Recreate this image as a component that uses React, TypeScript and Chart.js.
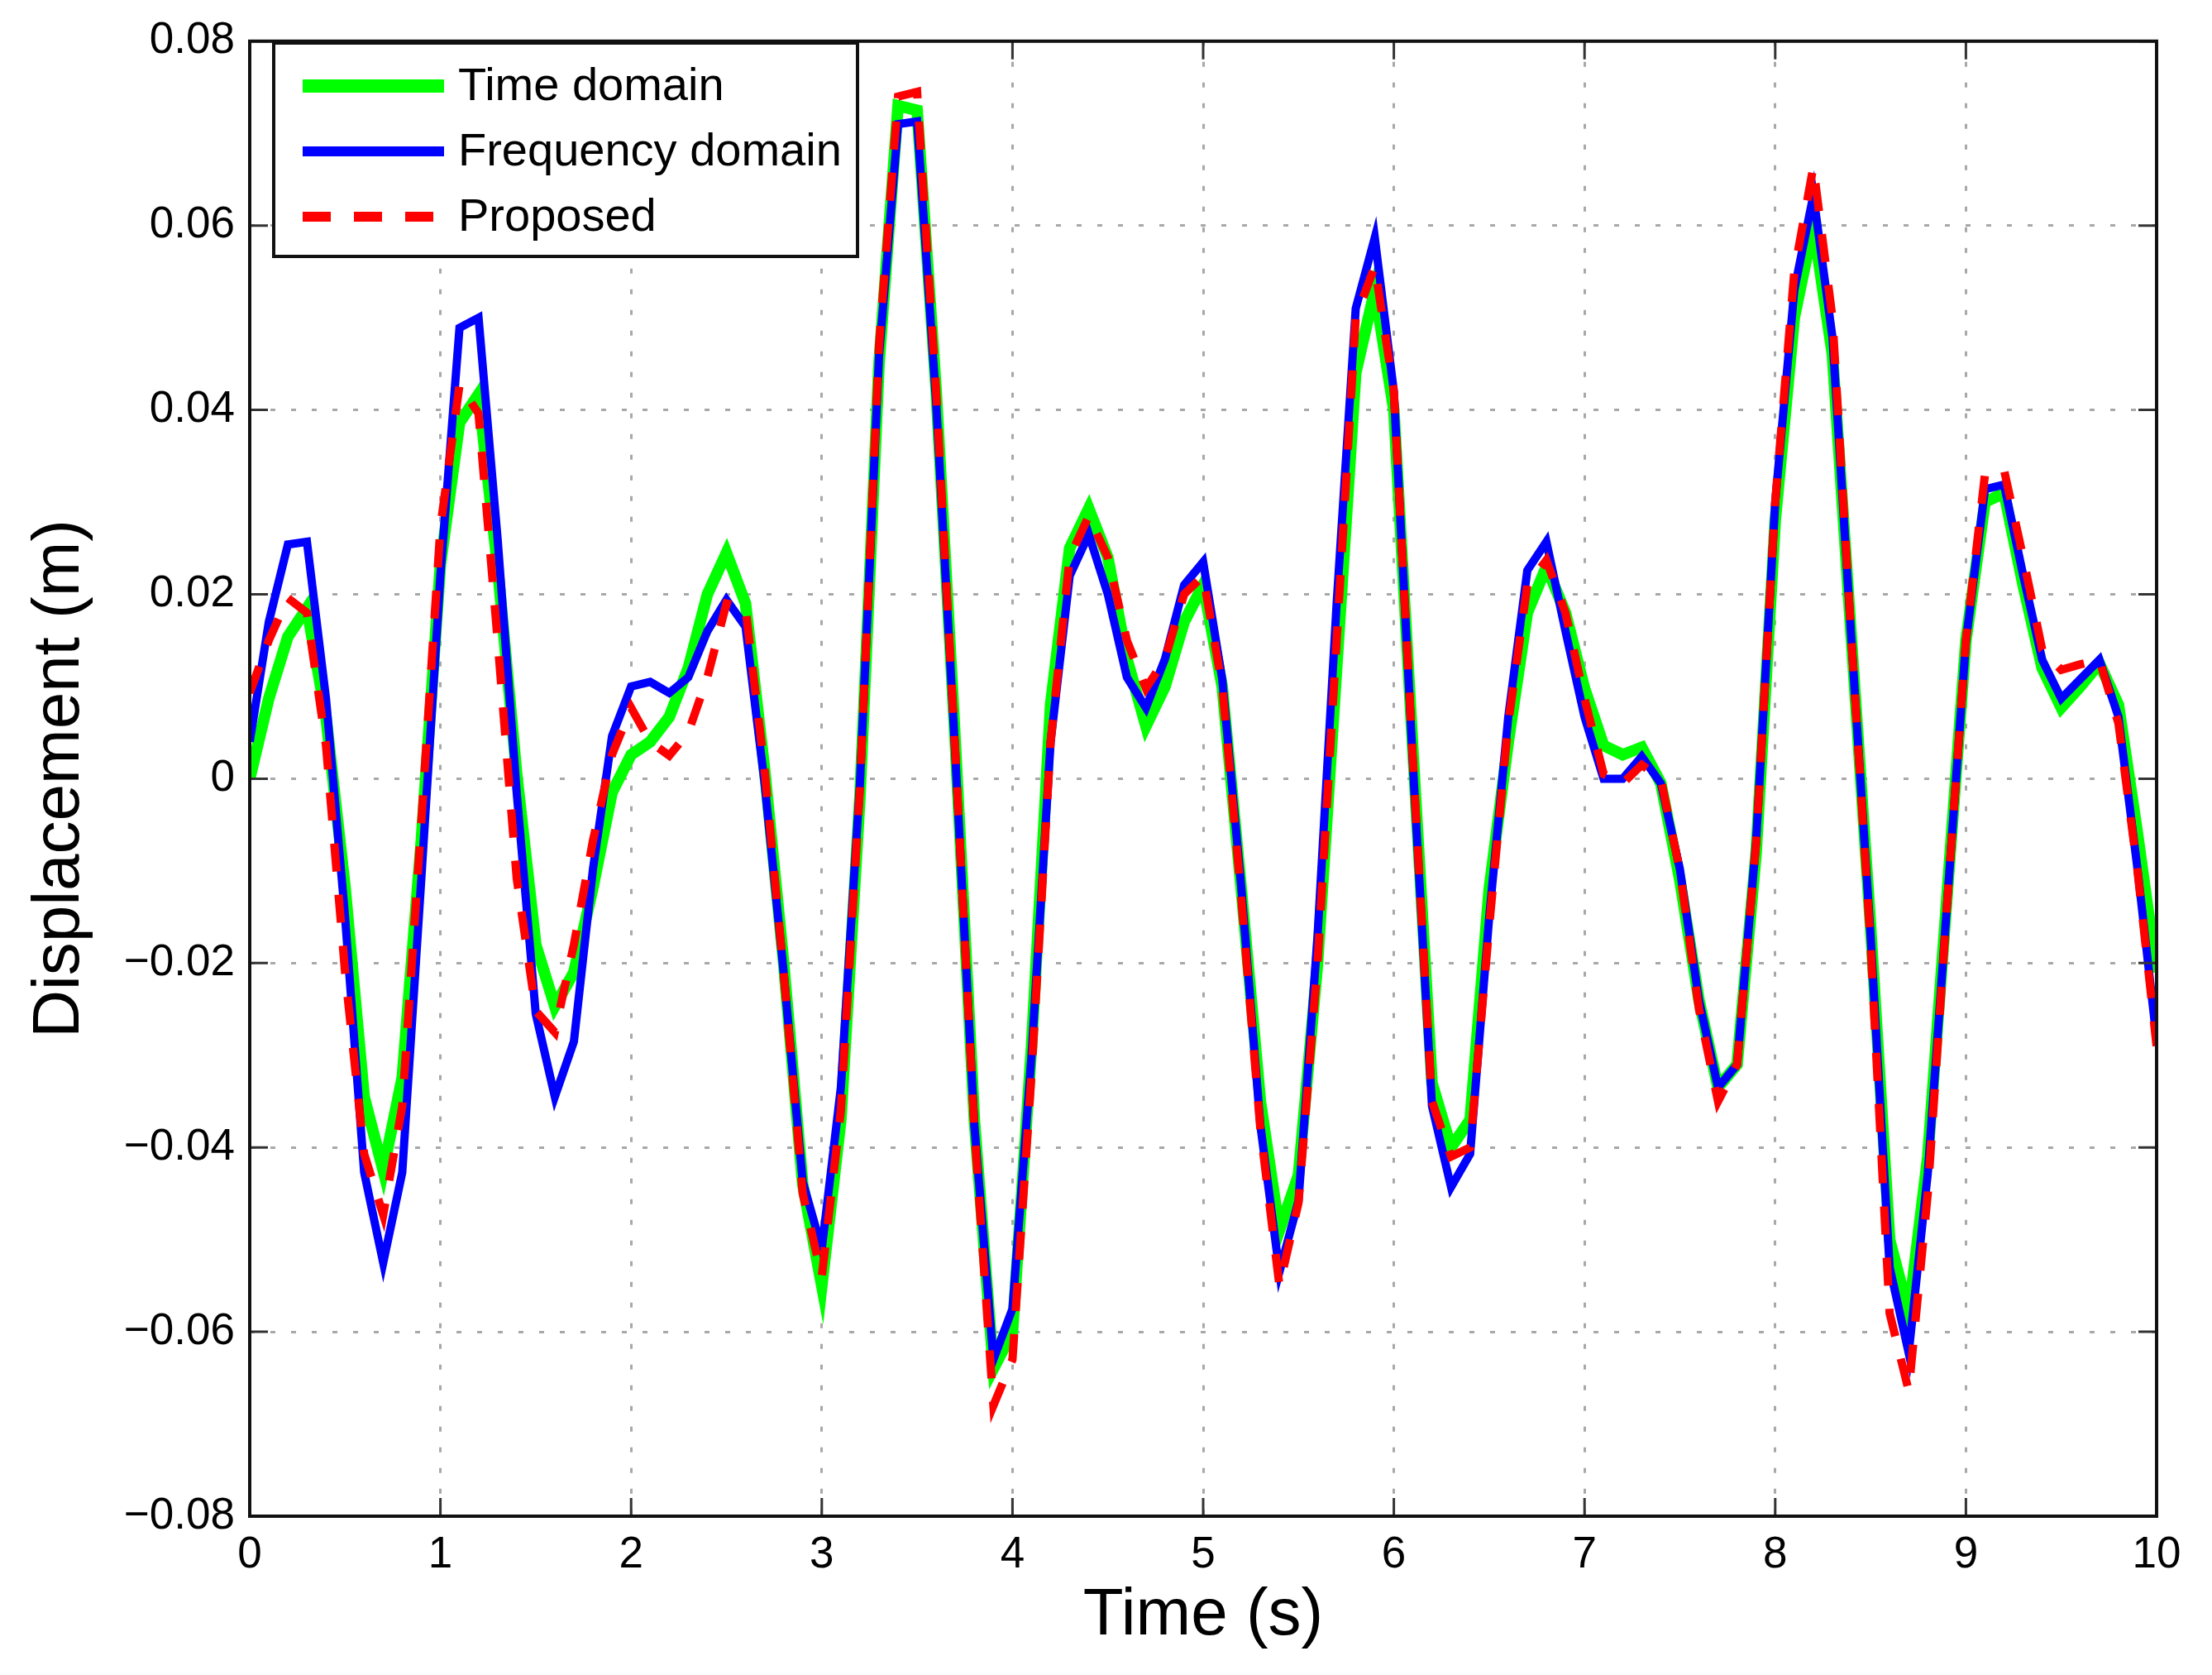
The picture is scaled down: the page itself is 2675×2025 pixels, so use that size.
import React, { useEffect, useRef } from 'react';
import { Chart, registerables } from 'chart.js';

Chart.register(...registerables);

// ---- data ----
const times = [
  0, 0.1, 0.2, 0.3, 0.4, 0.5, 0.6, 0.7, 0.8, 0.9,
  1, 1.1, 1.2, 1.3, 1.4, 1.5, 1.6, 1.7, 1.8, 1.9,
  2, 2.1, 2.2, 2.3, 2.4, 2.5, 2.6, 2.7, 2.8, 2.9,
  3, 3.1, 3.2, 3.3, 3.4, 3.5, 3.6, 3.7, 3.8, 3.9,
  4, 4.1, 4.2, 4.3, 4.4, 4.5, 4.6, 4.7, 4.8, 4.9,
  5, 5.1, 5.2, 5.3, 5.4, 5.5, 5.6, 5.7, 5.8, 5.9,
  6, 6.1, 6.2, 6.3, 6.4, 6.5, 6.6, 6.7, 6.8, 6.9,
  7, 7.1, 7.2, 7.3, 7.4, 7.5, 7.6, 7.7, 7.8, 7.9,
  8, 8.1, 8.2, 8.3, 8.4, 8.5, 8.6, 8.7, 8.8, 8.9,
  9, 9.1, 9.2, 9.3, 9.4, 9.5, 9.6, 9.7, 9.8, 9.9,
  10,
];

const timeDomain = [
  0.0, 0.0087, 0.0154, 0.0185, 0.0067, -0.0118, -0.0345, -0.0425, -0.0324, -0.0067,
  0.0232, 0.0386, 0.0417, 0.023, 0.0005, -0.018, -0.0247, -0.021, -0.0118, -0.0015,
  0.0026, 0.004, 0.0067, 0.012, 0.02, 0.0245, 0.019, 0.001, -0.02, -0.044,
  -0.055, -0.037, -0.002, 0.045, 0.073, 0.0725, 0.042, 0.004, -0.037, -0.064,
  -0.06, -0.029, 0.008, 0.025, 0.0293, 0.024, 0.013, 0.0057, 0.01, 0.017,
  0.021, 0.01, -0.012, -0.035, -0.049, -0.043, -0.02, 0.012, 0.044, 0.053,
  0.04, 0.003, -0.033, -0.04, -0.037, -0.012, 0.004, 0.018, 0.023, 0.018,
  0.0098, 0.0036, 0.0026, 0.0034, -0.0005, -0.011, -0.024, -0.0335, -0.031, -0.008,
  0.028, 0.05, 0.06, 0.046, 0.015, -0.016, -0.05, -0.058, -0.041, -0.013,
  0.015, 0.03, 0.031, 0.021, 0.012, 0.0077, 0.01, 0.0125, 0.008, -0.006,
  -0.021,
];

const frequencyDomain = [
  0.004, 0.017, 0.0254, 0.0257, 0.0087, -0.015, -0.0427, -0.0525, -0.0427, -0.0108,
  0.0221, 0.0489, 0.05, 0.026, -0.0015, -0.0255, -0.0345, -0.0285, -0.0098, 0.0046,
  0.01, 0.0105, 0.0093, 0.011, 0.016, 0.0194, 0.0165, -0.0005, -0.021, -0.0437,
  -0.051, -0.0335, -0.0005, 0.0458, 0.071, 0.0713, 0.0407, 0.0026, -0.0376, -0.063,
  -0.0575, -0.03, 0.004, 0.022, 0.0265, 0.02, 0.011, 0.0077, 0.013, 0.021,
  0.0235, 0.0108, -0.0118, -0.0376, -0.0535, -0.0458, -0.017, 0.019, 0.051, 0.0587,
  0.042, 0.0015, -0.0355, -0.0443, -0.0407, -0.015, 0.0067, 0.0226, 0.0257, 0.016,
  0.0067, 0.0, 0.0, 0.0024, -0.0005, -0.0098, -0.024, -0.0335, -0.031, -0.0067,
  0.03, 0.053, 0.0633, 0.0479, 0.0149, -0.017, -0.053, -0.0623, -0.0428, -0.0139,
  0.0149, 0.0314, 0.0319, 0.0221, 0.0129, 0.0087, 0.0108, 0.0129, 0.0067, -0.0098,
  -0.0283,
];

const proposed = [
  0.0093, 0.015, 0.0196, 0.018, 0.0036, -0.021, -0.0407, -0.0473, -0.0355, -0.0046,
  0.0273, 0.0427, 0.0396, 0.015, -0.0108, -0.0252, -0.0275, -0.018, -0.0067, 0.0026,
  0.0077, 0.004, 0.0025, 0.005, 0.011, 0.019, 0.0185, 0.001, -0.021, -0.045,
  -0.054, -0.036, -0.001, 0.047, 0.074, 0.0745, 0.042, 0.003, -0.038, -0.068,
  -0.063, -0.032, 0.004, 0.024, 0.0285, 0.024, 0.015, 0.0098, 0.013, 0.02,
  0.022, 0.01, -0.013, -0.038, -0.055, -0.046, -0.02, 0.015, 0.05, 0.0556,
  0.042, 0.002, -0.035, -0.041, -0.04, -0.016, 0.006, 0.021, 0.0237, 0.018,
  0.0087, 0.0005, -0.0005, 0.0015, 0.0, -0.01, -0.025, -0.035, -0.031, -0.007,
  0.03, 0.055, 0.0664, 0.05, 0.015, -0.018, -0.058, -0.0664, -0.045, -0.014,
  0.015, 0.033, 0.0335, 0.024, 0.014, 0.0118, 0.0124, 0.0129, 0.006, -0.01,
  -0.029,
];

const xTicks = [0, 1, 2, 3, 4, 5, 6, 7, 8, 9, 10];
const yTicks = [-0.08, -0.06, -0.04, -0.02, 0, 0.02, 0.04, 0.06, 0.08];

const seriesLabels = ['Time domain', 'Frequency domain', 'Proposed'];

const FONT = "'Liberation Sans', Arial, Helvetica, sans-serif";
const W = 2675;
const H = 2025;

const fmtY = (v: number) => {
  if (Math.abs(v) < 1e-9) return '0';
  return (v < 0 ? '\u2212' : '') + Math.abs(v).toFixed(2);
};

const framePlugin = {
  id: 'matlabFrame',
  afterDraw(chart: any) {
    const { ctx, chartArea: a, scales } = chart;
    ctx.save();
    // inner tick marks
    ctx.strokeStyle = '#333';
    ctx.lineWidth = 3;
    const tl = 22;
    ctx.beginPath();
    xTicks.forEach((v) => {
      const px = scales.x.getPixelForValue(v);
      ctx.moveTo(px, a.bottom);
      ctx.lineTo(px, a.bottom - tl);
      ctx.moveTo(px, a.top);
      ctx.lineTo(px, a.top + tl);
    });
    yTicks.forEach((v) => {
      const py = scales.y.getPixelForValue(v);
      ctx.moveTo(a.left, py);
      ctx.lineTo(a.left + tl, py);
      ctx.moveTo(a.right, py);
      ctx.lineTo(a.right - tl, py);
    });
    ctx.stroke();
    // box
    ctx.strokeStyle = '#111';
    ctx.lineWidth = 4;
    ctx.strokeRect(a.left, a.top, a.right - a.left, a.bottom - a.top);

    // legend
    const bx = 331, by = 52, bw = 706, bh = 258;
    ctx.fillStyle = '#ffffff';
    ctx.fillRect(bx, by, bw, bh);
    ctx.strokeStyle = '#111';
    ctx.lineWidth = 4;
    ctx.strokeRect(bx, by, bw, bh);
    const rows = [104, 183, 262];
    const order = [2, 1, 0]; // dataset indices for green, blue, red
    ctx.font = `56px ${FONT}`;
    ctx.textBaseline = 'middle';
    ctx.textAlign = 'left';
    order.forEach((di, i) => {
      const ds = chart.data.datasets[di];
      const y = rows[i];
      ctx.save();
      ctx.strokeStyle = ds.borderColor;
      ctx.lineWidth = ds.borderWidth + 2;
      ctx.setLineDash(ds.borderDash || []);
      ctx.lineCap = 'butt';
      ctx.beginPath();
      ctx.moveTo(366, y);
      ctx.lineTo(537, y);
      ctx.stroke();
      ctx.restore();
      ctx.fillStyle = '#000';
      ctx.fillText(ds.label, 554, y + 2);
    });
    ctx.restore();
  },
};

export default function App() {
  const ref = useRef<HTMLCanvasElement | null>(null);

  useEffect(() => {
    const canvas = ref.current;
    if (!canvas) return;
    const toPts = (arr: number[]) => arr.map((v, i) => ({ x: times[i], y: v }));
    const chart = new Chart(canvas, {
      type: 'line',
      data: {
        datasets: [
          {
            label: seriesLabels[2],
            data: toPts(proposed),
            borderColor: '#ff0000',
            borderWidth: 10,
            borderDash: [34, 28],
            pointRadius: 0,
            tension: 0,
            fill: false,
          },
          {
            label: seriesLabels[1],
            data: toPts(frequencyDomain),
            borderColor: '#0000ff',
            borderWidth: 10,
            pointRadius: 0,
            tension: 0,
            fill: false,
          },
          {
            label: seriesLabels[0],
            data: toPts(timeDomain),
            borderColor: '#00ff00',
            borderWidth: 14,
            pointRadius: 0,
            tension: 0,
            fill: false,
          },
        ],
      },
      options: {
        animation: false,
        responsive: false,
        devicePixelRatio: 1,
        parsing: false as any,
        normalized: true,
        layout: { padding: { left: 0, top: 36, right: 67, bottom: 0 } },
        plugins: {
          legend: { display: false },
          tooltip: { enabled: false },
        },
        scales: {
          x: {
            type: 'linear',
            min: 0,
            max: 10,
            afterBuildTicks: (scale: any) => {
              scale.ticks = xTicks.map((v) => ({ value: v }));
            },
            afterFit: (scale: any) => {
              scale.height = H - 1833;
            },
            ticks: {
              color: '#000',
              padding: 16,
              maxRotation: 0,
              autoSkip: false,
              font: { family: FONT, size: 53 },
              callback: (v: any) => String(v),
            },
            grid: {
              color: '#a8a8a8',
              lineWidth: 3,
              drawTicks: false,
            },
            border: { display: false, dash: [6, 19] },
            title: {
              display: true,
              text: 'Time (s)',
              color: '#000',
              font: { family: FONT, size: 80 },
              padding: { top: 0, bottom: 23 },
            },
          },
          y: {
            type: 'linear',
            min: -0.08,
            max: 0.08,
            afterBuildTicks: (scale: any) => {
              scale.ticks = yTicks.map((v) => ({ value: v }));
            },
            afterFit: (scale: any) => {
              scale.width = 302;
            },
            ticks: {
              color: '#000',
              padding: 18,
              autoSkip: false,
              font: { family: FONT, size: 53 },
              callback: (v: any) => fmtY(Number(v)),
            },
            grid: {
              color: '#a8a8a8',
              lineWidth: 3,
              drawTicks: false,
            },
            border: { display: false, dash: [6, 19] },
            title: {
              display: true,
              text: 'Displacement (m)',
              color: '#000',
              font: { family: FONT, size: 80 },
              padding: { top: 25, bottom: 0 },
            },
          },
        },
      },
      plugins: [framePlugin],
    } as any);
    return () => chart.destroy();
  }, []);

  return (
    <div style={{ position: 'fixed', left: 0, top: 0, width: W, height: H, background: '#fff' }}>
      <canvas ref={ref} width={W} height={H} style={{ width: W, height: H, display: 'block' }} />
    </div>
  );
}
